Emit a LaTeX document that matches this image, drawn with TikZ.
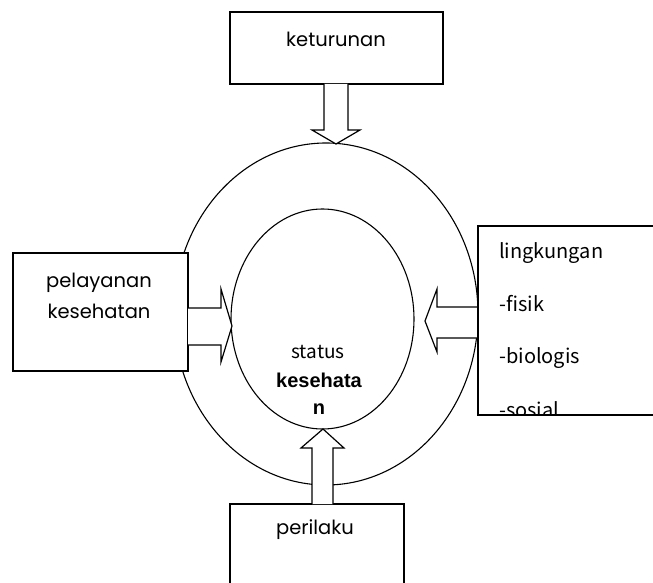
\documentclass[tikz,border=0pt]{standalone}
\usepackage{fontspec}
\setmainfont{Poppins}
\newfontfamily\cjkf{Noto Sans CJK SC}
\newfontfamily\arialf{Liberation Sans}
\usetikzlibrary{shapes.geometric}
\tikzset{
  box/.style={draw, line width=1.4pt, fill=white, rectangle, inner sep=0pt},
  ring/.style={draw, line width=1.1pt, ellipse, inner sep=0pt},
  blockarrow/.style={draw, line width=1.2pt, fill=white, line join=miter},
  lbl/.style={inner sep=0pt, font=\fontsize{19.5}{31}\selectfont},
  rlbl/.style={inner sep=0pt, anchor=base west, font=\cjkf\fontsize{20}{24}\selectfont},
}
\begin{document}
\begin{tikzpicture}[x=1pt,y=-1pt]
\useasboundingbox (0,0) rectangle (653,583);
\clip (0,0) rectangle (653,583);
% rings
\node[ring, minimum width=304pt, minimum height=342pt] (outer) at (326,314) {};
\node[ring, minimum width=183pt, minimum height=220pt] (inner) at (322.5,319) {};
% boxes
\node[box, minimum width=213pt, minimum height=72pt] (top) at (336.5,48) {};
\node[box, minimum width=175pt, minimum height=118pt] (left) at (100.5,312) {};
\node[box, minimum width=190pt, minimum height=189pt] (right) at (573,320.5) {};
\node[box, minimum width=174pt, minimum height=100pt] (bottom) at (317,554) {};
% block arrows
\draw[blockarrow] (324,84) -- (324,130) -- (312,130) -- (336,144) -- (360,130) -- (348,130) -- (348,84);
\draw[blockarrow] (312,504) -- (312,448) -- (301,448) -- (323,429) -- (344,448) -- (333,448) -- (333,504);
\draw[blockarrow] (188,308) -- (221,308) -- (221,289) -- (232,326) -- (221,362) -- (221,345) -- (188,345);
\draw[blockarrow] (478,307) -- (437,307) -- (437,289) -- (425,321) -- (437,352) -- (437,338) -- (478,338);
% texts
\node[lbl] (tketurunan) at (336,39) {keturunan};
\node[lbl, align=center] (tpelayanan) at (99,296) {pelayanan\\kesehatan};
\node[lbl] (tperilaku) at (315,530) {perilaku};
\node[inner sep=0pt, font=\cjkf\fontsize{19}{22}\selectfont] (tstatus) at (318,352) {status};
\node[inner sep=0pt, font=\arialf\bfseries\fontsize{20}{27}\selectfont, align=center] (tkes) at (319,394) {kesehata\\n};
\node[rlbl] (tl1) at (499,258) {lingkungan};
\node[rlbl] (tl2) at (499,311) {-fisik};
\node[rlbl] (tl3) at (499,363) {-biologis};
\node[rlbl] (tl4) at (499,417) {-sosial};
\fill[white] (478.7,415.7) rectangle (653,440);
\draw[line width=1.4pt] (478,226) -- (478,415) -- (660,415);
\end{tikzpicture}
\end{document}
